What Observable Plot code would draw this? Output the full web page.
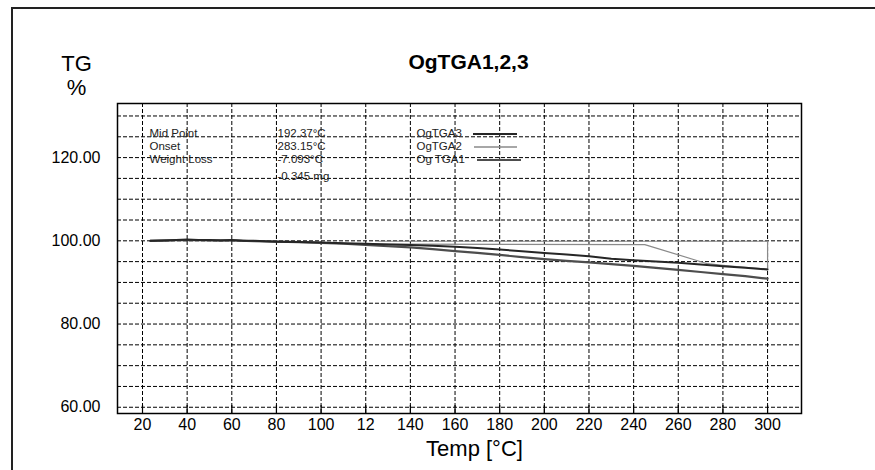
<!DOCTYPE html>
<html><head><meta charset="utf-8">
<script src="https://cdn.jsdelivr.net/npm/d3@7"></script>
<script src="https://cdn.jsdelivr.net/npm/@observablehq/plot@0.6"></script>
<style>
html,body{margin:0;padding:0;background:#fff;}
#chart{position:relative;width:875px;height:470px;overflow:hidden;background:#fff;}
</style></head><body><div id="chart"></div>
<script>
// ---- data ----
const title = "OgTGA1,2,3";
const yAxisTitle = ["TG", "%"];
const xAxisTitle = "Temp [°C]";

const xTicks = [20, 40, 60, 80, 100, 120, 140, 160, 180, 200, 220, 240, 260, 280, 300];
const xTickLabels = ["20", "40", "60", "80", "100", "12", "140", "160", "180", "200", "220", "240", "260", "280", "300"];
const yTicks = [60, 80, 100, 120];
const yGrid = [60, 65, 70, 75, 80, 85, 90, 95, 100, 105, 110, 115, 120, 125, 130];

const annLabels = ["Mid Point", "Onset", "Weight Loss"];
const annValues = ["192.37°C", "283.15°C", "-7.093°C", "-0.345 mg"];
const legendNames = ["OgTGA3", "OgTGA2", "Og TGA1"];

// OgTGA3 (dark)
const tga3T = [23.5, 30, 35, 40, 45, 50, 55, 60, 65, 70, 80, 90, 100, 110, 120, 130, 140, 150, 160, 170, 180, 190, 200, 210, 220, 230, 240, 250, 260, 270, 280, 290, 300];
const tga3V = [100.0, 100.1, 100.2, 100.3, 100.2, 100.2, 100.1, 100.2, 100.0, 100.0, 99.8, 99.7, 99.6, 99.4, 99.3, 99.1, 99.0, 98.8, 98.6, 98.3, 97.9, 97.5, 97.1, 96.7, 96.3, 95.7, 95.3, 95.0, 94.7, 94.3, 93.9, 93.5, 93.1];
// OgTGA2 (light gray, with return trace)
const tga2T = [23.5, 30, 40, 50, 60, 70, 80, 90, 100, 110, 120, 128, 245, 273, 280, 290, 300, 300, 126];
const tga2V = [100.0, 100.0, 100.3, 100.1, 100.2, 100.0, 99.9, 99.7, 99.6, 99.4, 99.3, 99.2, 99.1, 94.5, 94.1, 93.6, 93.2, 99.9, 99.9];
// Og TGA1 (medium gray, lowest)
const tga1T = [23.5, 30, 40, 50, 60, 70, 80, 90, 100, 110, 120, 130, 140, 150, 160, 170, 180, 190, 200, 210, 220, 230, 240, 250, 260, 270, 280, 290, 300];
const tga1V = [100.0, 100.1, 100.2, 100.1, 100.1, 99.9, 99.8, 99.7, 99.5, 99.3, 99.0, 98.7, 98.4, 98.0, 97.5, 97.1, 96.6, 96.1, 95.6, 95.2, 94.8, 94.4, 94.0, 93.5, 93.0, 92.5, 92.0, 91.5, 90.9];

const tga3 = tga3T.map((t, i) => ({t, v: tga3V[i]}));
const tga2 = tga2T.map((t, i) => ({t, v: tga2V[i]}));
const tga1 = tga1T.map((t, i) => ({t, v: tga1V[i]}));

const colors = {tga3: "#262626", tga2: "#8a8a8a", tga1: "#4d4d4d"};
const font = "'Liberation Sans', Arial, Helvetica, sans-serif";

const rowDy = [30, 43, 56, 73];
const annMarks = [];
annLabels.forEach((s, i) => annMarks.push(Plot.text([s], {frameAnchor: "top-left", dx: 32, dy: rowDy[i], textAnchor: "start", lineAnchor: "middle", fontSize: 11.5, fill: "#222"})));
annValues.forEach((s, i) => annMarks.push(Plot.text([s], {frameAnchor: "top-left", dx: 160, dy: rowDy[i], textAnchor: "start", lineAnchor: "middle", fontSize: 11.5, fill: "#222"})));
legendNames.forEach((s, i) => annMarks.push(Plot.text([s], {frameAnchor: "top-left", dx: 299, dy: rowDy[i], textAnchor: "start", lineAnchor: "middle", fontSize: 11.5, fill: "#222"})));

const plot = Plot.plot({
  width: 875, height: 470,
  marginLeft: 117, marginRight: 74, marginTop: 103, marginBottom: 57,
  style: {fontFamily: font, background: "#fff", color: "#000", overflow: "visible"},
  x: {domain: [8.8, 315.2], label: null},
  y: {domain: [58.5, 133], label: null},
  marks: [
    Plot.gridX(xTicks, {stroke: "#000", strokeOpacity: 1, strokeWidth: 1, strokeDasharray: "4,2"}),
    Plot.gridY(yGrid, {stroke: "#000", strokeOpacity: 1, strokeWidth: 1, strokeDasharray: "4,2"}),
    Plot.tickX(xTicks, {x: d => d, insetTop: 302, stroke: "#000", strokeWidth: 1.2}),
    Plot.axisX(xTicks, {anchor: "bottom", tickSize: 0, tickPadding: 5, fontSize: 16, fill: "#000", label: null,
      tickFormat: d => xTickLabels[xTicks.indexOf(d)]}),
    Plot.axisY(yTicks, {anchor: "left", tickSize: 0, tickPadding: 17, fontSize: 16, fill: "#000", label: null,
      tickFormat: d => d.toFixed(2)}),
    Plot.line(tga2, {x: "t", y: "v", stroke: colors.tga2, strokeWidth: 1.2}),
    Plot.line(tga1, {x: "t", y: "v", stroke: colors.tga1, strokeWidth: 2.2}),
    Plot.line(tga3, {x: "t", y: "v", stroke: colors.tga3, strokeWidth: 2}),
    Plot.frame({stroke: "#000", strokeWidth: 1.5}),
    Plot.text([title], {frameAnchor: "top", dx: 9, dy: -41, lineAnchor: "middle", fontSize: 21, fontWeight: "bold", fill: "#000"}),
    Plot.text([yAxisTitle[0]], {frameAnchor: "top-left", dx: -41, dy: -40, textAnchor: "middle", lineAnchor: "middle", fontSize: 22, fill: "#000"}),
    Plot.text([yAxisTitle[1]], {frameAnchor: "top-left", dx: -41, dy: -16, textAnchor: "middle", lineAnchor: "middle", fontSize: 22, fill: "#000"}),
    Plot.text([xAxisTitle], {frameAnchor: "bottom", dx: 15, dy: 35, lineAnchor: "middle", fontSize: 22, fill: "#000"}),
    ...annMarks
  ]
});

document.getElementById("chart").appendChild(plot);

// outer page frame and legend swatches
const svg = d3.select(plot);
svg.append("path").attr("d", "M12,470V8H875").attr("fill", "none").attr("stroke", "#222").attr("stroke-width", 2);
const legendLines = [
  {x1: 473, x2: 517, y: 134, c: colors.tga3, w: 2},
  {x1: 474, x2: 517, y: 147, c: colors.tga2, w: 1.3},
  {x1: 477, x2: 521, y: 160, c: colors.tga1, w: 1.8}
];
svg.selectAll("line.leg").data(legendLines).join("line").attr("class", "leg")
  .attr("x1", d => d.x1).attr("x2", d => d.x2).attr("y1", d => d.y).attr("y2", d => d.y)
  .attr("stroke", d => d.c).attr("stroke-width", d => d.w);
</script>
</body></html>
